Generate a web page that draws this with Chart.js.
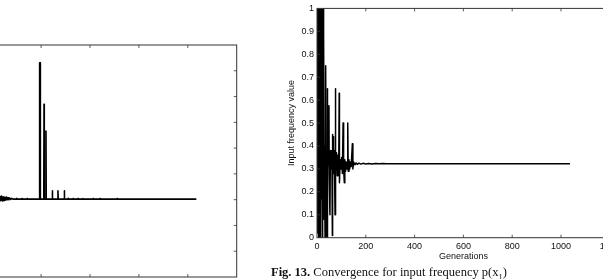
<!DOCTYPE html>
<html>
<head>
<meta charset="utf-8">
<script src="https://cdn.jsdelivr.net/npm/chart.js@4.4.1/dist/chart.umd.min.js"></script>
<style>
  html, body { margin: 0; padding: 0; width: 603px; height: 279px; overflow: hidden; background: #fff; }
  canvas { position: absolute; top: 0; }
  #left-chart { left: -60px; }
  #right-chart { left: 265px; }
  #caption {
    position: absolute; left: 271px; top: 266px; white-space: nowrap;
    font-family: "Liberation Serif", "Times New Roman", serif; font-size: 12.5px; line-height: 12px; color: #111;
  }
  #caption sub { font-size: 8.5px; line-height: 0; }
</style>
</head>
<body>
<canvas id="left-chart" width="300" height="279"></canvas>
<canvas id="right-chart" width="375" height="279"></canvas>
<div id="caption"><b>Fig. 13.</b> Convergence for input frequency p(x<sub>1</sub>)</div>
<script>
// axis ticks
const genTicks = [0, 200, 400, 600, 800, 1000, 1200];

// left figure (cut off by the page edge)
const leftGenerations = [
  220, 232, 234, 236, 238, 240, 242, 244, 246, 248, 250, 253, 256, 259, 262, 265, 268, 272, 276, 280, 285,
  300, 301, 302, 321, 322, 323, 342, 343, 344,
  393, 394, 396, 397, 411, 412, 413, 419, 420, 421,
  445, 446, 447, 468, 469, 470, 494, 495, 496,
  510, 511, 512, 530, 531, 532, 550, 551, 552, 570, 571, 572,
  612, 613, 614, 640, 641, 642, 710, 711, 712, 1035
];
const leftValues = [
  0.300, 0.312, 0.296, 0.310, 0.298, 0.314, 0.295, 0.309, 0.300, 0.311, 0.297, 0.308, 0.299, 0.310, 0.300, 0.307, 0.300, 0.306, 0.301, 0.305, 0.302,
  0.302, 0.305, 0.302, 0.302, 0.304, 0.302, 0.302, 0.304, 0.302,
  0.302, 0.831, 0.831, 0.302, 0.302, 0.670, 0.302, 0.302, 0.566, 0.302,
  0.302, 0.334, 0.302, 0.302, 0.334, 0.302, 0.302, 0.334, 0.302,
  0.302, 0.305, 0.302, 0.302, 0.304, 0.302, 0.302, 0.304, 0.302, 0.302, 0.304, 0.302,
  0.302, 0.304, 0.302, 0.302, 0.304, 0.302, 0.302, 0.304, 0.302, 0.302
];

// Fig. 13 - input frequency p(x1) per generation
const rightGenerations = [
  0, 1, 2, 3, 4, 5, 6, 7, 8, 9, 10, 11, 12, 13, 14, 15, 16, 17, 18, 19, 20,
  21, 22, 23, 24, 25, 26, 27, 28, 29, 30, 31, 33, 35, 36, 37, 39, 41, 42, 44,
  46, 49, 50, 53, 55, 58, 61, 63, 64, 66, 67, 69, 71, 74, 75, 77, 80, 83, 86, 89,
  91, 92, 95, 98, 101, 104, 107, 109, 112, 114, 117, 120, 123, 126, 128, 131, 134, 137, 140, 145,
  147, 150, 155, 160, 165, 172, 180, 190, 200, 212, 225, 240, 255, 270, 285, 300, 320, 340, 1037
];
const rightValues = [
  0.30, 1.00, 0.02, 1.00, 0.30, 1.00, 0.00, 0.95, 0.40, 0.03, 1.00, 0.35, 1.00, 0.00, 1.00, 0.30, 1.00, 0.50, 1.00, 0.17, 1.00,
  0.35, 0.98, 0.00, 1.00, 0.30, 1.00, 0.08, 0.90, 0.40, 0.30, 0.38, 0.00, 0.33, 0.75, 0.30, 0.38, 0.00, 0.65, 0.30,
  0.38, 0.575, 0.28, 0.10, 0.38, 0.30, 0.38, 0.01, 0.45, 0.30, 0.44, 0.28, 0.38, 0.10, 0.65, 0.30, 0.37, 0.27, 0.36, 0.30,
  0.63, 0.24, 0.34, 0.30, 0.35, 0.28, 0.50, 0.30, 0.24, 0.34, 0.29, 0.33, 0.30, 0.50, 0.29, 0.34, 0.30, 0.33, 0.31, 0.41,
  0.30, 0.33, 0.318, 0.326, 0.320, 0.325, 0.321, 0.325, 0.321, 0.324, 0.321, 0.324, 0.322, 0.324, 0.322, 0.323, 0.322, 0.322, 0.322
];

Chart.defaults.font.family = "'Liberation Sans', Arial, sans-serif";
Chart.defaults.font.size = 9;
Chart.defaults.color = "#111";

const toPoints = (xs, ys) => xs.map((x, i) => ({ x: x, y: ys[i] }));

// matlab style box with inward tick marks
const boxPlugin = {
  id: "matlabBox",
  afterDatasetsDraw(chart) {
    const { ctx, chartArea: a, scales } = chart;
    ctx.save();
    ctx.strokeStyle = "#333";
    ctx.lineWidth = 1;
    ctx.strokeRect(a.left, a.top, a.right - a.left, a.bottom - a.top);
    ctx.lineWidth = 0.8;
    ctx.beginPath();
    scales.x.ticks.forEach((t) => {
      const px = scales.x.getPixelForValue(t.value);
      if (px <= a.left + 1 || px >= a.right - 1) return;
      ctx.moveTo(px, a.bottom); ctx.lineTo(px, a.bottom - 3);
      ctx.moveTo(px, a.top); ctx.lineTo(px, a.top + 3);
    });
    scales.y.ticks.forEach((t) => {
      const py = scales.y.getPixelForValue(t.value);
      if (py <= a.top + 1 || py >= a.bottom - 1) return;
      ctx.moveTo(a.left, py); ctx.lineTo(a.left + 3, py);
      ctx.moveTo(a.right, py); ctx.lineTo(a.right - 3, py);
    });
    ctx.stroke();
    ctx.restore();
  },
};

function makeChart(id, points, opts) {
  return new Chart(document.getElementById(id), {
    type: "line",
    data: {
      datasets: [{
        data: points,
        borderColor: "#000",
        borderWidth: opts.lineWidth,
        borderJoinStyle: "round",
        pointRadius: 0,
        tension: 0,
        fill: false,
      }],
    },
    options: {
      responsive: false,
      animation: false,
      events: [],
      layout: { padding: opts.padding },
      plugins: { legend: { display: false }, tooltip: { enabled: false } },
      scales: {
        x: {
          type: "linear",
          min: 0,
          max: 1200,
          afterBuildTicks: (scale) => { scale.ticks = genTicks.map((v) => ({ value: v })); },
          afterFit: (scale) => { scale.height = opts.xHeight; },
          grid: { display: false, drawTicks: false },
          border: { display: false },
          ticks: { display: opts.labels, padding: 3, maxRotation: 0, autoSkip: false, callback: (v) => String(v) },
          title: { display: opts.labels, text: "Generations", padding: { top: 0, bottom: 17 } },
        },
        y: {
          min: 0,
          max: opts.yMax,
          afterFit: (scale) => { scale.width = opts.yWidth; },
          grid: { display: false, drawTicks: false },
          border: { display: false },
          ticks: { display: opts.labels, stepSize: 0.1, padding: 3, callback: (v) => String(Number(v.toFixed(1))) },
          title: { display: opts.labels, text: "Input frequency value", padding: { top: 21.6, bottom: 0 } },
        },
      },
    },
    plugins: [boxPlugin],
  });
}

makeChart("left-chart", toPoints(leftGenerations, leftValues), {
  lineWidth: 1.6, padding: { top: 45, right: 3.3, left: 0, bottom: 0 },
  xHeight: 2, yWidth: 3.3, yMax: 0.9, labels: false,
});

makeChart("right-chart", toPoints(rightGenerations, rightValues), {
  lineWidth: 1.5, padding: { top: 8, right: 30.2, left: 0, bottom: 0 },
  xHeight: 41.3, yWidth: 52, yMax: 1, labels: true,
});
</script>
</body>
</html>
